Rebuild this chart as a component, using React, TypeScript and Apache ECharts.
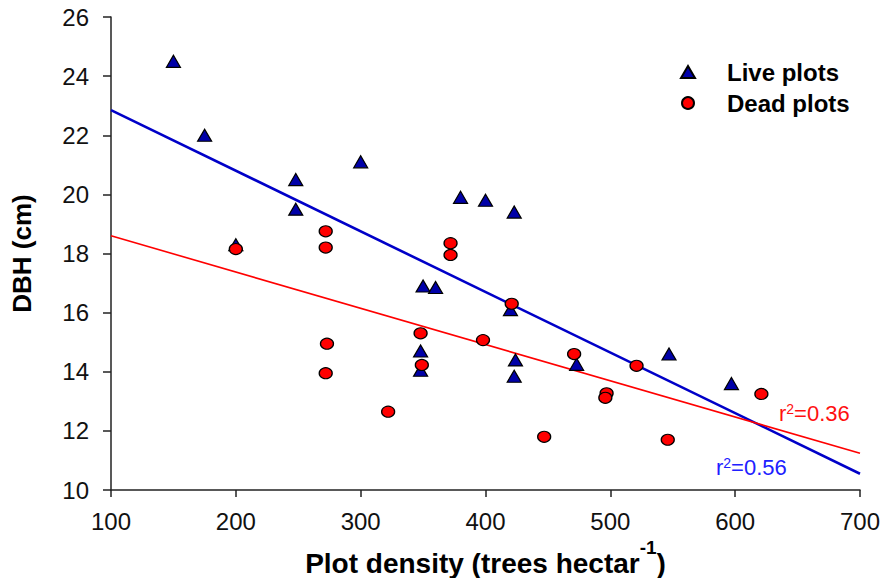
import React, { useEffect, useRef } from "react";
import * as echarts from "echarts";

const liveX = [150, 175, 248, 248, 300, 200, 380, 400, 423, 350, 360, 420, 348, 348, 424, 423, 473, 547, 597];
const liveY = [24.5, 22.0, 20.5, 19.5, 21.1, 18.3, 19.9, 19.8, 19.4, 16.9, 16.85, 16.1, 14.7, 14.05, 14.4, 13.85, 14.25, 14.6, 13.6];

const deadX = [200, 272, 272, 273, 272, 322, 372, 372, 421, 348, 398, 349, 471, 521, 497, 496, 621, 546, 447];
const deadY = [18.15, 18.75, 18.2, 14.95, 13.95, 12.65, 18.35, 17.95, 16.3, 15.3, 15.07, 14.23, 14.6, 14.2, 13.27, 13.12, 13.25, 11.7, 11.8];

const liveFitX = [100, 700];
const liveFitY = [22.85, 10.55];
const deadFitX = [100, 700];
const deadFitY = [18.6, 11.24];

const liveR2 = "0.56";
const deadR2 = "0.36";

const xTicks = { min: 100, max: 700, interval: 100 };
const yTicks = { min: 10, max: 26, interval: 2 };

const FONT = "'Liberation Sans', Arial, Helvetica, sans-serif";

const zip = (xs: number[], ys: number[]) => xs.map((x, i) => [x, ys[i]]);

export default function App() {
  const ref = useRef<HTMLDivElement>(null);
  useEffect(() => {
    if (!ref.current) return;
    const chart = echarts.init(ref.current, null, { renderer: "svg" });
    const r2Rich = (color: string) => ({
      m: { fontSize: 22, lineHeight: 22, verticalAlign: "bottom", fontFamily: FONT, fill: color, color },
      s: { fontSize: 14, lineHeight: 14, verticalAlign: "top", fontFamily: FONT, fill: color, color },
    });
    chart.setOption({
      animation: false,
      backgroundColor: "#ffffff",
      grid: { left: 111, right: 24, top: 17, bottom: 88, containLabel: false, outerBoundsMode: "none" },
      legend: {
        orient: "vertical",
        left: 675,
        top: 55,
        itemWidth: 14,
        itemHeight: 12,
        itemGap: 7,
        data: ["Live plots", "Dead plots"],
        textStyle: {
          fontFamily: FONT,
          fontSize: 24,
          fontWeight: "bold",
          color: "#000",
          lineHeight: 22,
          padding: [0, 0, 0, 27],
        },
      },
      xAxis: {
        type: "value",
        min: xTicks.min,
        max: xTicks.max,
        interval: xTicks.interval,
        splitLine: { show: false },
        axisLine: { lineStyle: { color: "#222", width: 1.5 } },
        axisTick: { length: 7, lineStyle: { color: "#222", width: 1.5 } },
        axisLabel: { fontFamily: FONT, fontSize: 24, color: "#111", margin: 19 },
        name: "{m|Plot density (trees hectar}{s|-1}{m|)}",
        nameLocation: "middle",
        nameGap: 39,
        nameTextStyle: {
          rich: {
            m: { fontFamily: FONT, fontSize: 28, fontWeight: "bold", color: "#000", lineHeight: 40, verticalAlign: "bottom" },
            s: { fontFamily: FONT, fontSize: 19, fontWeight: "bold", color: "#000", lineHeight: 19, verticalAlign: "top" },
          },
        },
      },
      yAxis: {
        type: "value",
        min: yTicks.min,
        max: yTicks.max,
        interval: yTicks.interval,
        splitLine: { show: false },
        axisLine: { lineStyle: { color: "#222", width: 1.5 } },
        axisTick: { length: 8, lineStyle: { color: "#222", width: 1.5 } },
        axisLabel: { fontFamily: FONT, fontSize: 24, color: "#111", margin: 22 },
        name: "DBH (cm)",
        nameLocation: "middle",
        nameGap: 76,
        nameTextStyle: { fontFamily: FONT, fontSize: 26, fontWeight: "bold", color: "#000" },
      },
      series: [
        {
          type: "line",
          data: zip(liveFitX, liveFitY),
          symbol: "none",
          lineStyle: { color: "#0000c8", width: 2.6 },
          silent: true,
          z: 1,
        },
        {
          type: "line",
          data: zip(deadFitX, deadFitY),
          symbol: "none",
          lineStyle: { color: "#ff0000", width: 1.6 },
          silent: true,
          z: 1,
        },
        {
          name: "Live plots",
          type: "scatter",
          data: zip(liveX, liveY),
          symbol: "triangle",
          symbolSize: [14, 12],
          itemStyle: { color: "#0000a8", borderColor: "#000", borderWidth: 1.2, opacity: 1 },
          z: 3,
        },
        {
          name: "Dead plots",
          type: "scatter",
          data: zip(deadX, deadY),
          symbol: "circle",
          symbolSize: [13, 11],
          itemStyle: { color: "#ff0000", borderColor: "#000", borderWidth: 1.2, opacity: 1 },
          z: 4,
        },
      ],
      graphic: [
        {
          type: "text",
          left: 779,
          top: 402,
          style: {
            text: "{m|r}{s|2}{m|=" + deadR2 + "}",
            rich: r2Rich("#ff1010"),
            fill: "#ff1010",
          },
        },
        {
          type: "text",
          left: 716,
          top: 456,
          style: {
            text: "{m|r}{s|2}{m|=" + liveR2 + "}",
            rich: r2Rich("#2020ff"),
            fill: "#2020ff",
          },
        },
      ],
    });
    return () => chart.dispose();
  }, []);
  return (
    <div
      ref={ref}
      style={{ position: "fixed", left: 0, top: 0, width: 884, height: 578, background: "#fff" }}
    />
  );
}
